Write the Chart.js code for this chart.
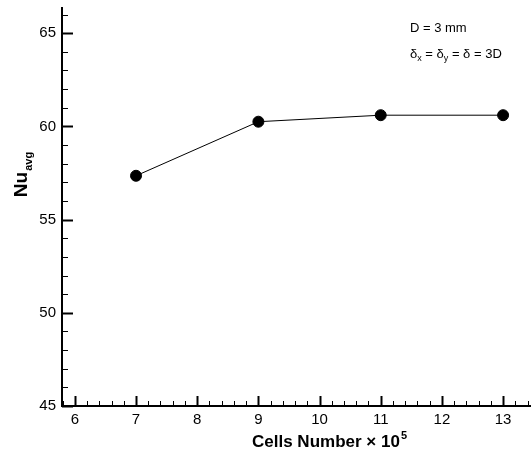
<!DOCTYPE html>
<html>
<head>
<meta charset="utf-8">
<script src="https://cdn.jsdelivr.net/npm/chart.js@4"></script>
<style>
  html, body { margin: 0; padding: 0; background: #fff; }
  #wrap { width: 531px; height: 458px; }
</style>
</head>
<body>
<div id="wrap"><canvas id="chart" width="531" height="458"></canvas></div>
<script>
// grid independence data
const cells = [7, 9, 11, 13];
const nuAvg = [57.35, 60.25, 60.6, 60.6];
const xTicks = [6, 7, 8, 9, 10, 11, 12, 13];
const yTicks = [45, 50, 55, 60, 65];

const X_MIN = 5.79, X_MAX = 13.44;
const Y_MIN = 45, Y_MAX = 66.35;
const FONT = "'Liberation Sans', Arial, sans-serif";

// tick marks point inward, minor ones drawn shorter
const tickMarks = {
    id: "tickMarks",
    afterDraw(chart) {
        const ctx = chart.ctx;
        const xs = chart.scales.x;
        const ys = chart.scales.y;
        const area = chart.chartArea;
        ctx.save();
        ctx.strokeStyle = "#000";

        for (let i = Math.ceil(X_MIN * 5); i <= Math.floor(X_MAX * 5); i++) {
            const px = Math.round(xs.getPixelForValue(i / 5)) + 0.5;
            const major = i % 5 === 0;
            ctx.lineWidth = major ? 2 : 1;
            ctx.beginPath();
            ctx.moveTo(px, area.bottom);
            ctx.lineTo(px, area.bottom - (major ? 10 : 5));
            ctx.stroke();
        }
        for (let v = Math.ceil(Y_MIN); v <= Y_MAX; v++) {
            const py = Math.round(ys.getPixelForValue(v)) + 0.5;
            const major = v % 5 === 0;
            ctx.lineWidth = major ? 2 : 1;
            ctx.beginPath();
            ctx.moveTo(area.left, py);
            ctx.lineTo(area.left + (major ? 11 : 6), py);
            ctx.stroke();
        }
        ctx.restore();
    }
};

// axis titles and the note, with sub/superscripts
const labels = {
    id: "labels",
    afterDraw(chart) {
        const ctx = chart.ctx;
        ctx.save();
        ctx.fillStyle = "#000";
        ctx.textBaseline = "alphabetic";

        // x title
        ctx.font = "bold 17px " + FONT;
        const main = "Cells Number \u00d7 10";
        const w = ctx.measureText(main).width;
        ctx.font = "bold 11px " + FONT;
        const sw = ctx.measureText("5").width;
        const x0 = 329 - (w + sw) / 2;
        ctx.font = "bold 17px " + FONT;
        ctx.fillText(main, x0, 447);
        ctx.font = "bold 11px " + FONT;
        ctx.fillText("5", x0 + w + 1, 439);

        // y title, rotated
        ctx.translate(27, 175);
        ctx.rotate(-Math.PI / 2);
        ctx.font = "bold 19px " + FONT;
        const nw = ctx.measureText("Nu").width;
        ctx.font = "bold 11px " + FONT;
        const aw = ctx.measureText("avg").width;
        const start = -(nw + aw) / 2;
        ctx.font = "bold 19px " + FONT;
        ctx.fillText("Nu", start, 0);
        ctx.font = "bold 11px " + FONT;
        ctx.fillText("avg", start + nw + 1, 5);
        ctx.setTransform(1, 0, 0, 1, 0, 0);

        // note
        ctx.font = "13px " + FONT;
        ctx.fillText("D = 3 mm", 410, 32);
        let x = 410;
        const parts = [["\u03b4", 0], ["x", 1], [" = \u03b4", 0], ["y", 1], [" = \u03b4 = 3D", 0]];
        parts.forEach(([t, sub]) => {
            ctx.font = (sub ? "9px " : "13px ") + FONT;
            ctx.fillText(t, x, sub ? 61 : 58);
            x += ctx.measureText(t).width;
        });
        ctx.restore();
    }
};

new Chart(document.getElementById("chart"), {
    type: "scatter",
    data: {
        datasets: [{
            data: cells.map((c, i) => ({ x: c, y: nuAvg[i] })),
            showLine: true,
            borderColor: "#000",
            borderWidth: 1,
            backgroundColor: "#000",
            pointRadius: 5.5,
            pointHoverRadius: 5.5
        }]
    },
    options: {
        responsive: false,
        animation: false,
        layout: { autoPadding: false, padding: { top: 8, right: 1, left: 0, bottom: 0 } },
        plugins: { legend: { display: false }, tooltip: { enabled: false } },
        scales: {
            x: {
                type: "linear",
                min: X_MIN,
                max: X_MAX,
                afterBuildTicks: scale => { scale.ticks = xTicks.map(v => ({ value: v })); },
                afterFit: scale => {
                    scale.height = 52;
                    scale.paddingLeft = 0;
                    scale.paddingRight = 0;
                },
                grid: { drawOnChartArea: false, drawTicks: false },
                border: { display: true, color: "#000", width: 2 },
                ticks: { color: "#000", font: { family: FONT, size: 15 }, padding: 5 }
            },
            y: {
                min: Y_MIN,
                max: Y_MAX,
                afterBuildTicks: scale => { scale.ticks = yTicks.map(v => ({ value: v })); },
                afterFit: scale => {
                    scale.width = 62;
                    scale.paddingTop = 0;
                    scale.paddingBottom = 0;
                },
                grid: { drawOnChartArea: false, drawTicks: false },
                border: { display: true, color: "#000", width: 2 },
                ticks: { color: "#000", font: { family: FONT, size: 15 }, padding: 6 }
            }
        }
    },
    plugins: [tickMarks, labels]
});
</script>
</body>
</html>
